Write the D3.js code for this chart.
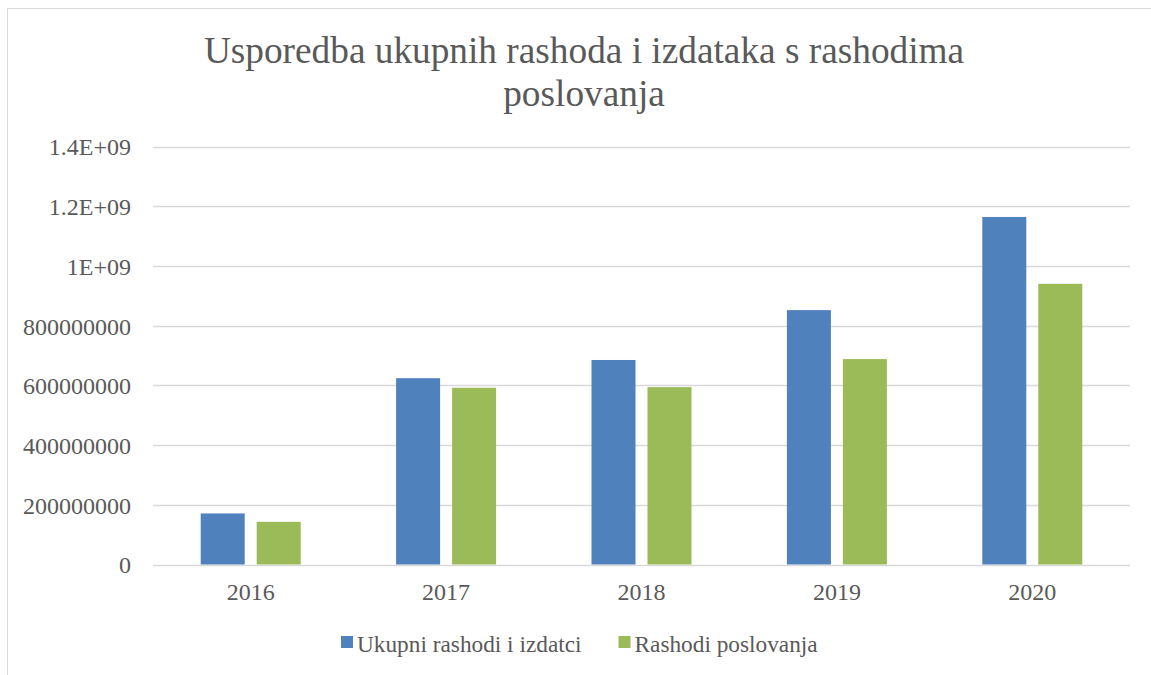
<!DOCTYPE html>
<html>
<head>
<meta charset="utf-8">
<script src="https://cdn.jsdelivr.net/npm/d3@7"></script>
<style>
  body { margin: 0; background: #fff; }
  text { font-family: "Liberation Serif", "Times New Roman", serif; fill: #595959; }
</style>
</head>
<body>
<script>
// data
const years = ["2016", "2017", "2018", "2019", "2020"];
const seriesNames = ["Ukupni rashodi i izdatci", "Rashodi poslovanja"];
const ukupni = [171e6, 624e6, 685e6, 852e6, 1164e6];
const poslovanja = [143e6, 592e6, 594e6, 688e6, 940e6];
const yTicks = [0, 2e8, 4e8, 6e8, 8e8, 1e9, 1.2e9, 1.4e9];
const yTickLabels = ["0", "200000000", "400000000", "600000000", "800000000", "1E+09", "1.2E+09", "1.4E+09"];
const colors = ["#4F81BD", "#9BBB59"];

const W = 1151, H = 675;
const plot = {left: 153, right: 1130, top: 146.5, bottom: 564.5};

const svg = d3.select("body").append("svg")
   .attr("width", W)
   .attr("height", H);

// chart border (runs off the right and bottom of the window)
svg.append("rect")
   .attr("x", 7.5).attr("y", 8.5)
   .attr("width", 1200).attr("height", 700)
   .attr("fill", "none")
   .attr("stroke", "#D9D9D9");

const x0 = d3.scaleBand()
   .domain(years)
   .range([plot.left, plot.right]);

const x1 = d3.scaleBand()
   .domain(seriesNames)
   .range([0, x0.bandwidth()])
   .paddingInner(0.214)
   .paddingOuter(0.852);

const y = d3.scaleLinear()
   .domain([0, 1.4e9])
   .range([plot.bottom, plot.top]);

// gridlines
svg.append("g")
   .selectAll("line")
   .data(yTicks)
   .enter()
   .append("line")
   .attr("x1", plot.left)
   .attr("x2", plot.right)
   .attr("y1", d => Math.round(y(d)) + 0.5)
   .attr("y2", d => Math.round(y(d)) + 0.5)
   .attr("stroke", "#D9D9D9")
   .attr("stroke-width", 1.3);

// y axis labels
const yAxis = d3.axisLeft(y)
   .tickValues(yTicks)
   .tickFormat((d, i) => yTickLabels[i])
   .tickSize(0)
   .tickPadding(22);
const gy = svg.append("g")
   .attr("transform", "translate(" + plot.left + ",0)")
   .call(yAxis);
gy.select(".domain").remove();
gy.selectAll("text")
   .attr("dy", "0.35em")
   .style("font-size", "24px")
   .style("font-family", "Liberation Serif")
   .attr("fill", "#595959");

// x axis labels
const xAxis = d3.axisBottom(x0).tickSize(0).tickPadding(27.5);
const gx = svg.append("g")
   .attr("transform", "translate(0," + plot.bottom + ")")
   .call(xAxis);
gx.select(".domain").remove();
gx.selectAll("text")
   .attr("dy", "0.35em")
   .style("font-size", "24px")
   .style("font-family", "Liberation Serif")
   .attr("fill", "#595959");

// bars
const rows = years.map((yr, i) => ({year: yr, values: [ukupni[i], poslovanja[i]]}));
svg.append("g")
   .selectAll("g")
   .data(rows)
   .enter()
   .append("g")
   .attr("transform", d => "translate(" + x0(d.year) + ",0)")
   .selectAll("rect")
   .data(d => d.values.map((v, j) => ({name: seriesNames[j], value: v, j: j})))
   .enter()
   .append("rect")
   .attr("x", d => x1(d.name))
   .attr("y", d => y(d.value))
   .attr("width", x1.bandwidth())
   .attr("height", d => y(0) - y(d.value))
   .attr("fill", d => colors[d.j]);

// title
const title = svg.append("text")
   .attr("text-anchor", "middle")
   .style("font-size", "37.3px");
title.append("tspan").attr("x", 584).attr("y", 63).text("Usporedba ukupnih rashoda i izdataka s rashodima");
title.append("tspan").attr("x", 584).attr("y", 106).text("poslovanja");

// legend
const legend = svg.append("g");
let lx = 341;
seriesNames.forEach((name, i) => {
  legend.append("rect")
     .attr("x", lx).attr("y", 636)
     .attr("width", 12).attr("height", 12)
     .attr("fill", colors[i]);
  const t = legend.append("text")
     .attr("x", lx + 16).attr("y", 652)
     .style("font-size", "23.3px")
     .text(name);
  lx = lx + 16 + t.node().getComputedTextLength() + 37;
});
</script>
</body>
</html>
